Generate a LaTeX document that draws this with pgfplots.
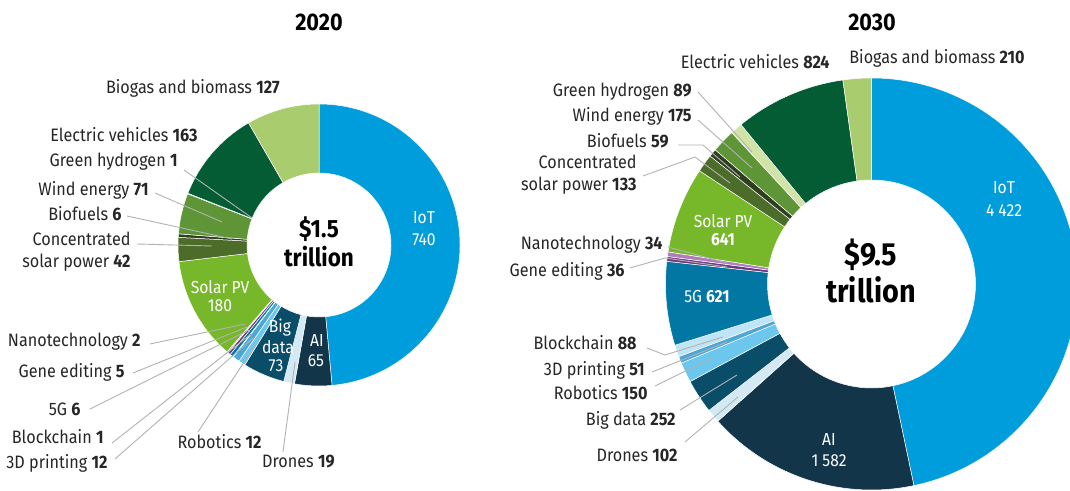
\documentclass[border=0pt]{standalone}
\usepackage{pgfplots}
\usepackage{pgfplotstable}
\pgfplotsset{compat=1.18}
\usepackage{fontspec}
\setmainfont{Fira Sans}[FakeStretch=0.9]

\definecolor{ciot}{HTML}{009DDC}
\definecolor{cai}{HTML}{123549}
\definecolor{cdrones}{HTML}{D3EAF4}
\definecolor{cbig}{HTML}{0A4D69}
\definecolor{crob}{HTML}{6CC7EE}
\definecolor{cthree}{HTML}{4DA8D6}
\definecolor{cblock}{HTML}{BFE4F6}
\definecolor{cfiveg}{HTML}{0277A4}
\definecolor{cgene}{HTML}{6E3A80}
\definecolor{cnano}{HTML}{B07CC0}
\definecolor{csolar}{HTML}{77B72A}
\definecolor{ccsp}{HTML}{4C6D2A}
\definecolor{cbiof}{HTML}{2F3E1F}
\definecolor{cwind}{HTML}{5E9536}
\definecolor{chyd}{HTML}{D1E3A6}
\definecolor{cev}{HTML}{045C34}
\definecolor{cbiogas}{HTML}{A9CD6E}

\pgfplotstableread{
name value col
IoT 740 ciot
AI 65 cai
Drones 19 cdrones
BigData 73 cbig
Robotics 12 crob
Printing 12 cthree
Blockchain 1 cblock
FiveG 6 cfiveg
Gene 5 cgene
Nano 2 cnano
Solar 180 csolar
CSP 42 ccsp
Biofuels 6 cbiof
Wind 71 cwind
Hydrogen 1 chyd
EV 163 cev
Biogas 127 cbiogas
}\leftdata

\pgfplotstableread{
name value col
IoT 4422 ciot
AI 1582 cai
Drones 102 cdrones
BigData 252 cbig
Robotics 150 crob
Printing 51 cthree
Blockchain 88 cblock
FiveG 621 cfiveg
Gene 36 cgene
Nano 34 cnano
Solar 641 csolar
CSP 133 ccsp
Biofuels 59 cbiof
Wind 175 cwind
Hydrogen 89 chyd
EV 824 cev
Biogas 210 cbiogas
}\rightdata

% #1 table, #2 cx, #3 cy, #4 inner radius, #5 outer radius (axis units = px)
\newcommand\donut[5]{%
  \pgfplotstablegetrowsof{#1}\pgfmathtruncatemacro\nrows{\pgfplotsretval-1}%
  \gdef\mytot{0}%
  \foreach \i in {0,...,\nrows}{%
    \pgfplotstablegetelem{\i}{value}\of#1%
    \pgfmathsetmacro\mysum{\mytot+\pgfplotsretval}\xdef\mytot{\mysum}}%
  \gdef\mycum{0}%
  \foreach \i in {0,...,\nrows}{%
    \pgfplotstablegetelem{\i}{value}\of#1\let\sval\pgfplotsretval
    \pgfplotstablegetelem{\i}{col}\of#1\let\scol\pgfplotsretval
    \pgfmathsetmacro\fracA{\mycum/\mytot}%
    \pgfmathsetmacro\fracB{(\mycum+\sval)/\mytot}%
    \pgfmathsetmacro\angA{90-360*\fracA}%
    \pgfmathsetmacro\angB{90-360*\fracB}%
    \pgfmathsetmacro\xo{#2+#5*cos(\angA)}%
    \pgfmathsetmacro\yo{#3+#5*sin(\angA)}%
    \pgfmathsetmacro\xi{#2+#4*cos(\angB)}%
    \pgfmathsetmacro\yi{#3+#4*sin(\angB)}%
    \pgfmathsetmacro\Ro{#5*0.5}%
    \pgfmathsetmacro\Ri{#4*0.5}%
    \edef\tmp{\noexpand\fill[fill=\scol, draw=white, line width=0.25pt] (axis cs:\xo,\yo) arc[start angle=\angA, end angle=\angB, radius=\Ro pt] -- (axis cs:\xi,\yi) arc[start angle=\angB, end angle=\angA, radius=\Ri pt] -- cycle;}%
    \tmp
    \pgfmathsetmacro\newcum{\mycum+\sval}\xdef\mycum{\newcum}%
  }%
}

\begin{document}
\begin{tikzpicture}[
  lbl/.style={font=\fontsize{9}{11}\selectfont, text=black!85, inner sep=0pt},
  inl/.style={font=\fontsize{8.7}{11}\selectfont, text=white, inner sep=0pt},
  ldr/.style={draw=black!30, line width=0.45pt},
]
\path[use as bounding box] (0,0) rectangle (535pt,245.5pt);
\clip (0,0) rectangle (535pt,245.5pt);
\begin{axis}[
  at={(0,0)}, anchor=south west,
  x=0.5pt, y=0.5pt,
  xmin=0, xmax=1070, ymin=-491, ymax=0,
  hide axis, clip=false,
]
\donut{\leftdata}{319}{-245}{72}{141}
\donut{\rightdata}{871.5}{-284}{104}{206}

% titles
\node[font=\fontsize{12}{14}\selectfont\bfseries] at (axis cs:319,-22) {2020};
\node[font=\fontsize{12}{14}\selectfont\bfseries] at (axis cs:872,-22) {2030};

% centre texts
\node[font=\fontsize{12.5}{15}\selectfont\bfseries] at (axis cs:319,-229) {\$1.5};
\node[font=\fontsize{12.5}{15}\selectfont\bfseries] at (axis cs:319,-257) {trillion};
\node[font=\fontsize{16}{19}\selectfont\bfseries] at (axis cs:871,-255) {\$9.5};
\node[font=\fontsize{16}{19}\selectfont\bfseries] at (axis cs:871,-290) {trillion};

% ---------- left leader lines
\draw[ldr] (axis cs:184,-170) -- (axis cs:252,-218);
\draw[ldr] (axis cs:155,-193) -- (axis cs:222,-222);
\draw[ldr] (axis cs:127,-216) -- (axis cs:232,-239);
\draw[ldr] (axis cs:137,-244) -- (axis cs:212,-246);
\draw[ldr] (axis cs:150,-344) -- (axis cs:245,-324);
\draw[ldr] (axis cs:133,-373) -- (axis cs:247,-327);
\draw[ldr] (axis cs:90,-409) -- (axis cs:249,-330);
\draw[ldr] (axis cs:112,-443) -- (axis cs:251,-334);
\draw[ldr] (axis cs:115,-459) -- (axis cs:253,-338);
\draw[ldr] (axis cs:198,-432) -- (axis cs:256,-344);
\draw[ldr] (axis cs:283,-452) -- (axis cs:295,-362);

% ---------- left labels
\node[lbl, anchor=east] at (axis cs:280,-88) {Biogas and biomass \textbf{127}};
\node[lbl, anchor=east] at (axis cs:198,-135) {Electric vehicles \textbf{163}};
\node[lbl, anchor=east] at (axis cs:178,-162) {Green hydrogen \textbf{1}};
\node[lbl, anchor=east] at (axis cs:149,-190) {Wind energy \textbf{71}};
\node[lbl, anchor=east] at (axis cs:122,-214) {Biofuels \textbf{6}};
\node[lbl, anchor=east, align=right] at (axis cs:131,-252) {Concentrated\\solar power \textbf{42}};
\node[lbl, anchor=east] at (axis cs:141,-342) {Nanotechnology \textbf{2}};
\node[lbl, anchor=east] at (axis cs:125,-372) {Gene editing \textbf{5}};
\node[lbl, anchor=east] at (axis cs:81,-409) {5G \textbf{6}};
\node[lbl, anchor=east] at (axis cs:104,-437) {Blockchain \textbf{1}};
\node[lbl, anchor=east] at (axis cs:108,-463) {3D printing \textbf{12}};
\node[lbl, anchor=east] at (axis cs:262,-442) {Robotics \textbf{12}};
\node[lbl, anchor=east] at (axis cs:335,-462) {Drones \textbf{19}};

% left inside labels
\node[inl] at (axis cs:424,-218) {IoT};
\node[inl] at (axis cs:424,-240) {740};
\node[inl] at (axis cs:220,-287) {Solar PV};
\node[inl] at (axis cs:220,-306) {180};
\node[inl] at (axis cs:280,-328) {Big};
\node[inl] at (axis cs:278,-347) {data};
\node[inl] at (axis cs:276,-366) {73};
\node[inl] at (axis cs:317,-341) {AI};
\node[inl] at (axis cs:316,-361) {65};

% ---------- right leader lines
\draw[ldr] (axis cs:698,-92) -- (axis cs:752,-152);
\draw[ldr] (axis cs:698,-120) -- (axis cs:752,-168);
\draw[ldr] (axis cs:678,-145) -- (axis cs:703,-145) -- (axis cs:740,-177);
\draw[ldr] (axis cs:643,-176) -- (axis cs:695,-157) -- (axis cs:730,-183);
\draw[ldr] (axis cs:668,-247) -- (axis cs:727,-263);
\draw[ldr] (axis cs:630,-268) -- (axis cs:665,-258) -- (axis cs:727,-267);
\draw[ldr] (axis cs:647,-348) -- (axis cs:665,-355) -- (axis cs:723,-337);
\draw[ldr] (axis cs:652,-372) -- (axis cs:727,-342);
\draw[ldr] (axis cs:655,-386) -- (axis cs:712,-358);
\draw[ldr] (axis cs:680,-410) -- (axis cs:737,-375);
\draw[ldr] (axis cs:685,-442) -- (axis cs:738,-397);

% ---------- right labels
\node[lbl, anchor=east] at (axis cs:830,-62) {Electric vehicles \textbf{824}};
\node[lbl, anchor=east] at (axis cs:1025,-58) {Biogas and biomass \textbf{210}};
\node[lbl, anchor=east] at (axis cs:692,-92) {Green hydrogen \textbf{89}};
\node[lbl, anchor=east] at (axis cs:692,-116) {Wind energy \textbf{175}};
\node[lbl, anchor=east] at (axis cs:669,-141) {Biofuels \textbf{59}};
\node[lbl, anchor=east, align=right] at (axis cs:637,-175) {Concentrated\\solar power \textbf{133}};
\node[lbl, anchor=east] at (axis cs:663,-245) {Nanotechnology \textbf{34}};
\node[lbl, anchor=east] at (axis cs:625,-271) {Gene editing \textbf{36}};
\node[lbl, anchor=east] at (axis cs:637,-343) {Blockchain \textbf{88}};
\node[lbl, anchor=east] at (axis cs:645,-370) {3D printing \textbf{51}};
\node[lbl, anchor=east] at (axis cs:648,-393) {Robotics \textbf{150}};
\node[lbl, anchor=east] at (axis cs:676,-420) {Big data \textbf{252}};
\node[lbl, anchor=east] at (axis cs:678,-455) {Drones \textbf{102}};

% right inside labels
\node[inl] at (axis cs:1004,-188) {IoT};
\node[inl] at (axis cs:1004,-211) {4 422};
\node[inl] at (axis cs:723,-221) {Solar PV};
\node[inl] at (axis cs:723,-240) {\textbf{641}};
\node[inl] at (axis cs:707,-297) {5G \textbf{621}};
\node[inl] at (axis cs:829,-440) {AI};
\node[inl] at (axis cs:829,-461) {1 582};
\end{axis}
\end{tikzpicture}
\end{document}
